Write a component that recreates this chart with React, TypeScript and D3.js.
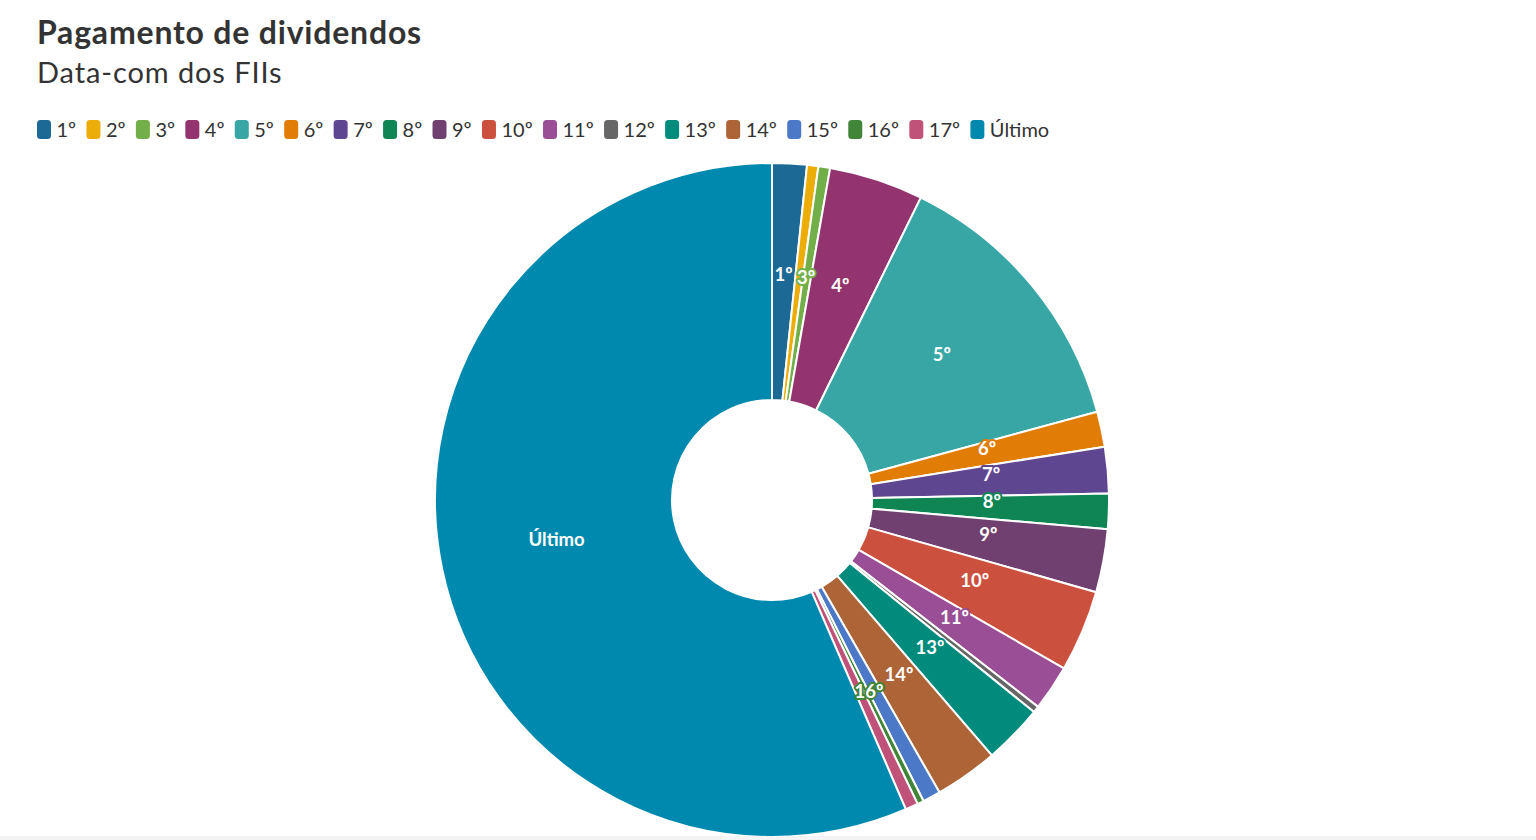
import React, { useEffect, useRef } from 'react';
import * as d3 from 'd3';

// slice shares (percent)
const categories = ['1º', '2º', '3º', '4º', '5º', '6º', '7º', '8º', '9º', '10º', '11º', '12º', '13º', '14º', '15º', '16º', '17º', 'Último'];
const values = [1.66, 0.54, 0.56, 4.52, 13.5, 1.69, 2.22, 1.69, 3.03, 3.92, 2.19, 0.31, 2.86, 3.03, 0.86, 0.31, 0.61, 56.5];
const colors = ['#1D6996', '#EDAD08', '#73AF48', '#94346E', '#38A6A5', '#E17C05', '#5F4690', '#0F8554', '#6F4070', '#CC503E', '#994E95', '#666666', '#008B7D', '#AD6437', '#4C79C7', '#408538', '#C0527A', '#0089AF'];
// labels that the original hides because they overlap
const hiddenLabels = ['2º', '12º', '15º', '17º'];

const title = 'Pagamento de dividendos';
const subtitle = 'Data-com dos FIIs';

const FONT = 'Lato, "Noto Sans", sans-serif';

const App: React.FC = () => {
  const svgRef = useRef<SVGSVGElement>(null);

  useEffect(() => {
    document.body.style.margin = '0';
    if (!svgRef.current) return;
    const svg = d3.select(svgRef.current);
    svg.selectAll('*').remove();

    const width = 1536;
    const height = 840;
    svg.attr('width', width).attr('height', height);

    // Title + subtitle
    svg.append('text')
      .attr('x', 37)
      .attr('y', 44)
      .attr('font-family', FONT)
      .attr('font-size', 32)
      .attr('font-weight', 'bold')
      .attr('letter-spacing', 0.8)
      .attr('fill', '#333333')
      .text(title);

    svg.append('text')
      .attr('x', 37)
      .attr('y', 83)
      .attr('font-family', FONT)
      .attr('font-size', 29)
      .attr('letter-spacing', 0.9)
      .attr('fill', '#333333')
      .text(subtitle);

    // Legend, laid out by measured text widths
    const legend = svg.append('g').attr('transform', 'translate(37,120)');
    let x = 0;
    categories.forEach((c, i) => {
      const item = legend.append('g').attr('transform', `translate(${x},0)`);
      item.append('rect')
        .attr('width', 14)
        .attr('height', 19)
        .attr('rx', 3.5)
        .attr('fill', colors[i]);
      const t = item.append('text')
        .attr('x', 19.5)
        .attr('y', 17)
        .attr('font-family', FONT)
        .attr('font-size', 20)
        .attr('fill', '#333333')
        .text(c);
      const w = (t.node() as SVGTextElement).getComputedTextLength();
      x += 19.5 + w + 10.3;
    });

    // Donut
    const cx = 772;
    const cy = 500;
    const outerR = 337;
    const innerR = 100;
    const labelR = 220;

    const data = categories.map((c, i) => ({ name: c, value: values[i], color: colors[i] }));
    type D = typeof data[number];

    const pie = d3.pie<D>().sort(null).value(d => d.value);
    const arcs = pie(data);
    const arc = d3.arc<d3.PieArcDatum<D>>().innerRadius(innerR).outerRadius(outerR);
    const labelArc = d3.arc<d3.PieArcDatum<D>>().innerRadius(labelR).outerRadius(labelR);

    const g = svg.append('g').attr('transform', `translate(${cx},${cy})`);

    g.selectAll('path')
      .data(arcs)
      .enter()
      .append('path')
      .attr('d', arc)
      .attr('fill', d => d.data.color)
      .attr('stroke', '#ffffff')
      .attr('stroke-width', 2)
      .attr('stroke-linejoin', 'round');

    g.selectAll('text.lbl')
      .data(arcs.filter(d => !hiddenLabels.includes(d.data.name)))
      .enter()
      .append('text')
      .attr('class', 'lbl')
      .attr('transform', d => {
        const [lx, ly] = labelArc.centroid(d);
        return `translate(${lx},${ly - 6})`;
      })
      .attr('text-anchor', 'middle')
      .attr('dominant-baseline', 'central')
      .attr('font-family', FONT)
      .attr('font-size', 18.5)
      .attr('font-weight', 'bold')
      .attr('fill', '#ffffff')
      .attr('stroke', d => d.data.color)
      .attr('stroke-width', 4)
      .attr('stroke-linejoin', 'round')
      .attr('paint-order', 'stroke')
      .text(d => d.data.name);

    // faint bottom strip seen at the page edge
    svg.append('rect')
      .attr('x', 0)
      .attr('y', 836)
      .attr('width', width)
      .attr('height', 4)
      .attr('fill', '#f4f4f4');
  }, []);

  return <svg ref={svgRef} style={{ display: 'block' }} />;
};

export default App;
